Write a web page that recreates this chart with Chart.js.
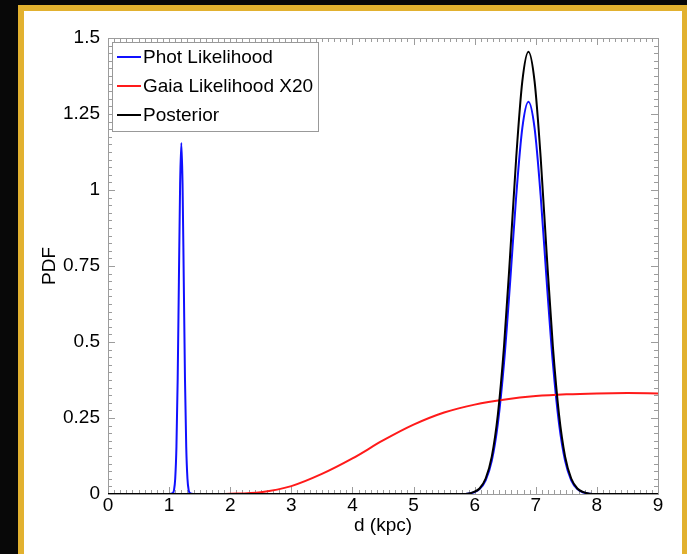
<!DOCTYPE html>
<html><head><meta charset="utf-8">
<script src="https://cdn.jsdelivr.net/npm/chart.js@4/dist/chart.umd.min.js"></script>
<style>
html,body{margin:0;padding:0;width:687px;height:554px;overflow:hidden;background:#080808;}
#frame{position:absolute;left:18px;top:5px;width:658px;height:560px;border:6px solid #e2b12f;border-bottom:none;background:#fff;}
#c{position:absolute;left:0;top:0;}
</style></head><body>
<div id="frame"><canvas id="c" width="658" height="543"></canvas></div>
<script>
// ---- data ----
const seriesNames = ['Phot Likelihood', 'Gaia Likelihood X20', 'Posterior'];

const photX = [0, 1.0, 1.06, 1.08, 1.10, 1.12, 1.14, 1.16, 1.18, 1.20, 1.22, 1.24, 1.26, 1.28, 1.30, 1.32, 1.34, 1.40,
  5.70, 5.88, 5.98, 6.08, 6.18, 6.28, 6.38, 6.48, 6.58, 6.68, 6.78, 6.88, 6.98, 7.08, 7.18, 7.28, 7.38, 7.48, 7.58, 7.68, 7.78, 7.88, 8.00, 9.0];
const photY = [0, 0, 0.003, 0.013, 0.051, 0.156, 0.375, 0.70, 1.019, 1.155, 1.019, 0.70, 0.375, 0.156, 0.051, 0.013, 0.003, 0,
  0, 0.001, 0.005, 0.016, 0.045, 0.109, 0.232, 0.430, 0.696, 0.981, 1.204, 1.29, 1.204, 0.981, 0.696, 0.430, 0.232, 0.109, 0.045, 0.016, 0.005, 0.001, 0, 0];

const gaiaX = [0, 1.5, 2.0, 2.5, 3.0, 3.5, 4.0, 4.5, 5.0, 5.5, 6.0, 6.5, 7.0, 7.5, 8.0, 8.5, 9.0];
const gaiaY = [0, 0, 0.001, 0.006, 0.026, 0.066, 0.117, 0.176, 0.228, 0.268, 0.294, 0.311, 0.322, 0.328, 0.331, 0.332, 0.331];

const postX = [0, 5.70, 5.88, 5.98, 6.08, 6.18, 6.28, 6.38, 6.48, 6.58, 6.68, 6.78, 6.88, 6.98, 7.08, 7.18, 7.28, 7.38, 7.48, 7.58, 7.68, 7.78, 7.88, 8.00, 9.0];
const postY = [0, 0, 0.001, 0.006, 0.018, 0.051, 0.123, 0.262, 0.485, 0.785, 1.107, 1.358, 1.455, 1.358, 1.107, 0.785, 0.485, 0.262, 0.123, 0.051, 0.018, 0.006, 0.001, 0, 0];

const xTicks = [0, 1, 2, 3, 4, 5, 6, 7, 8, 9];
const yTicks = [0, 0.25, 0.5, 0.75, 1, 1.25, 1.5];
const yTickLabels = ['0', '0.25', '0.5', '0.75', '1', '1.25', '1.5'];
const xMinorStep = 0.1;
const yMinorStep = 0.025;

// ---- styling ----
const FONT = "'Liberation Sans', Arial, Helvetica, sans-serif";
const FSIZE = 19;
const colors = ['#1010ff', '#ff1a1a', '#000000'];
const frameColor = '#9c9c9c';

function pts(xs, ys) { return xs.map((x, i) => ({ x: x, y: ys[i] })); }

const framePlugin = {
  id: 'idlFrame',
  beforeDatasetsDraw(chart) {
    const { ctx, chartArea: a, scales: { x, y } } = chart;
    ctx.save();
    ctx.strokeStyle = frameColor;
    ctx.lineWidth = 1;
    ctx.strokeRect(Math.round(a.left) + 0.5, Math.round(a.top) + 0.5, Math.round(a.right - a.left), Math.round(a.bottom - a.top));
    ctx.beginPath();
    const nx = Math.round((x.max - x.min) / xMinorStep);
    for (let i = 0; i <= nx; i++) {
      const v = x.min + i * xMinorStep;
      const px = Math.round(x.getPixelForValue(v)) + 0.5;
      const major = xTicks.some(t => Math.abs(t - v) < 1e-6);
      const len = major ? 7 : 4;
      ctx.moveTo(px, a.bottom); ctx.lineTo(px, a.bottom - len);
      ctx.moveTo(px, a.top); ctx.lineTo(px, a.top + len);
    }
    const ny = Math.round((y.max - y.min) / yMinorStep);
    for (let i = 0; i <= ny; i++) {
      const v = y.min + i * yMinorStep;
      const py = Math.round(y.getPixelForValue(v)) + 0.5;
      const major = yTicks.some(t => Math.abs(t - v) < 1e-6);
      const len = major ? 7 : 4;
      ctx.moveTo(a.left, py); ctx.lineTo(a.left + len, py);
      ctx.moveTo(a.right, py); ctx.lineTo(a.right - len, py);
    }
    ctx.stroke();
    ctx.restore();
  }
};

const legendPlugin = {
  id: 'boxLegend',
  afterDraw(chart) {
    const { ctx, chartArea: a } = chart;
    const bx = Math.round(a.left) + 4, by = Math.round(a.top) + 4, bw = 206, bh = 89;
    ctx.save();
    ctx.fillStyle = '#fff';
    ctx.fillRect(bx, by, bw, bh);
    ctx.strokeStyle = '#999';
    ctx.lineWidth = 1;
    ctx.strokeRect(bx + 0.5, by + 0.5, bw, bh);
    ctx.font = FSIZE + 'px ' + FONT;
    ctx.textBaseline = 'middle';
    ctx.textAlign = 'left';
    chart.data.datasets.forEach((ds, i) => {
      const cy = by + 15 + i * 29;
      ctx.strokeStyle = ds.borderColor;
      ctx.lineWidth = 2;
      ctx.beginPath();
      ctx.moveTo(bx + 5, cy); ctx.lineTo(bx + 29, cy);
      ctx.stroke();
      ctx.fillStyle = '#000';
      ctx.fillText(ds.label, bx + 31, cy + 1);
    });
    ctx.restore();
  }
};

new Chart(document.getElementById('c').getContext('2d'), {
  type: 'line',
  data: {
    datasets: [
      { label: seriesNames[0], data: pts(photX, photY), borderColor: colors[0], order: 3 },
      { label: seriesNames[1], data: pts(gaiaX, gaiaY), borderColor: colors[1], order: 2 },
      { label: seriesNames[2], data: pts(postX, postY), borderColor: colors[2], order: 1 }
    ]
  },
  options: {
    responsive: false,
    animation: false,
    devicePixelRatio: 1,
    elements: {
      point: { radius: 0, hoverRadius: 0 },
      line: { borderWidth: 2, cubicInterpolationMode: 'monotone', fill: false }
    },
    layout: { padding: { left: 0, top: 27, right: 24, bottom: 0 } },
    plugins: { legend: { display: false }, tooltip: { enabled: false } },
    scales: {
      x: {
        type: 'linear', min: 0, max: 9,
        afterBuildTicks: s => { s.ticks = xTicks.map(v => ({ value: v })); },
        afterFit: s => { s.height = 60; },
        grid: { display: false, drawTicks: false },
        border: { display: false },
        ticks: { font: { family: FONT, size: FSIZE }, color: '#000', padding: 0, maxRotation: 0, autoSkip: false, callback: v => String(v) },
        title: { display: true, text: 'd (kpc)', color: '#000', font: { family: FONT, size: FSIZE }, padding: { top: 0, bottom: 17 } }
      },
      y: {
        type: 'linear', min: 0, max: 1.5,
        afterBuildTicks: s => { s.ticks = yTicks.map(v => ({ value: v })); },
        afterFit: s => { s.width = 84; },
        grid: { display: false, drawTicks: false },
        border: { display: false },
        ticks: { font: { family: FONT, size: FSIZE }, color: '#000', padding: 8, autoSkip: false, callback: v => { const k = yTicks.findIndex(t => Math.abs(t - v) < 1e-9); return k >= 0 ? yTickLabels[k] : ''; } },
        title: { display: true, text: 'PDF', color: '#000', font: { family: FONT, size: FSIZE }, padding: { top: 14, bottom: 0 } }
      }
    }
  },
  plugins: [framePlugin, legendPlugin]
});
</script>
</body></html>
